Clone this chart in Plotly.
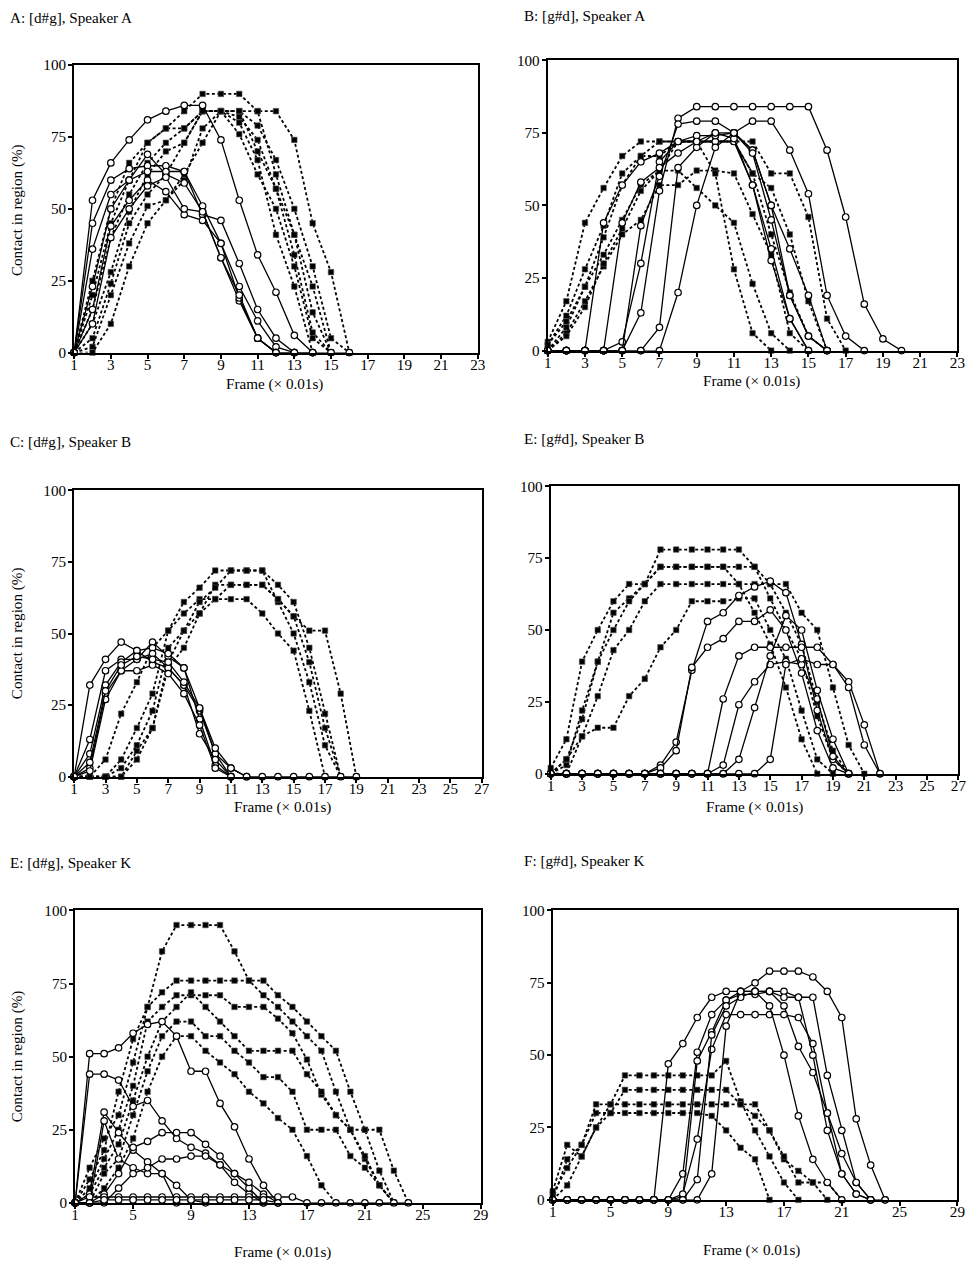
import plotly.graph_objects as go

# ---------------- data (frame values start at frame 1) ----------------
A_solid = [
    [0, 53, 66, 74, 81, 84, 86, 86, 74, 53, 34, 21, 6, 0],
    [0, 45, 60, 64, 65, 65, 63, 51, 38, 23, 11, 2, 0, 0],
    [0, 36, 55, 60, 69, 62, 59, 49, 33, 18, 5, 0],
    [0, 23, 50, 60, 63, 63, 63, 48, 46, 31, 15, 5, 0],
    [0, 15, 44, 53, 60, 56, 48, 46, 38, 19, 5, 0, 0],
    [0, 10, 40, 50, 58, 61, 50, 49, 33, 20, 5, 0, 0, 0, 0, 0],
]
A_dashed = [
    [0, 25, 50, 66, 73, 78, 84, 90, 90, 90, 84, 62, 41, 14, 0],
    [0, 20, 45, 60, 73, 78, 78, 84, 84, 84, 84, 84, 74, 45, 28, 0],
    [0, 15, 40, 55, 66, 73, 78, 84, 84, 84, 79, 67, 50, 30, 5, 0],
    [0, 10, 28, 49, 62, 70, 73, 84, 84, 84, 70, 57, 41, 23, 0],
    [0, 5, 24, 45, 55, 62, 73, 84, 84, 82, 74, 57, 34, 7, 0],
    [0, 2, 20, 38, 51, 53, 60, 78, 84, 76, 62, 50, 30, 5, 0],
    [0, 0, 10, 30, 45, 53, 62, 73, 84, 80, 67, 41, 23, 0],
]

B_solid = [
    [0, 0, 0, 44, 57, 65, 68, 72, 72, 72, 72, 57, 35, 11, 0],
    [0, 0, 0, 0, 3, 30, 65, 72, 74, 74, 75, 69, 50, 19, 5, 0],
    [0, 0, 0, 0, 0, 13, 55, 80, 84, 84, 84, 84, 84, 84, 84, 69, 46, 16, 4, 0],
    [0, 0, 0, 0, 0, 0, 8, 63, 70, 75, 73, 57, 31, 11, 0],
    [0, 0, 0, 0, 0, 0, 0, 20, 50, 70, 75, 79, 79, 69, 54, 19, 5, 0],
    [0, 0, 0, 0, 44, 58, 63, 68, 72, 75, 75, 69, 50, 35, 19, 0],
    [0, 0, 0, 0, 0, 43, 60, 78, 79, 79, 75, 68, 45, 19, 5, 0],
]
B_dashed = [
    [3, 17, 44, 56, 67, 72, 72, 72, 72, 72, 72, 61, 56, 40, 17, 0],
    [2, 12, 28, 43, 61, 67, 67, 72, 72, 72, 72, 72, 61, 61, 46, 11, 0],
    [0, 8, 22, 39, 57, 67, 72, 72, 72, 72, 72, 61, 40, 20, 5, 0],
    [0, 6, 17, 29, 40, 45, 57, 57, 62, 62, 61, 47, 33, 6, 0],
    [2, 10, 22, 33, 45, 57, 62, 62, 56, 50, 44, 23, 6, 0],
    [0, 5, 15, 30, 42, 55, 62, 72, 72, 61, 28, 6, 0],
]

C_solid = [
    [0, 32, 41, 47, 44, 40, 38, 32, 23, 8, 0],
    [0, 13, 37, 41, 41, 47, 42, 38, 24, 8, 3, 0],
    [0, 8, 32, 40, 44, 45, 43, 38, 20, 4, 0],
    [0, 3, 29, 37, 41, 43, 38, 32, 15, 6, 0],
    [0, 2, 27, 37, 37, 39, 36, 29, 18, 3, 0],
    [0, 5, 30, 39, 42, 41, 40, 33, 24, 10, 3, 0, 0, 0, 0, 0, 0, 0, 0],
]
C_dashed = [
    [0, 0, 0, 6, 17, 29, 51, 61, 66, 72, 72, 72, 72, 61, 50, 33, 11, 0],
    [0, 0, 0, 0, 9, 17, 40, 51, 57, 62, 67, 67, 67, 62, 56, 40, 17, 0],
    [0, 0, 6, 22, 33, 45, 51, 57, 62, 62, 62, 62, 57, 50, 44, 23, 0],
    [0, 0, 0, 0, 6, 17, 38, 45, 57, 67, 67, 67, 67, 62, 56, 51, 51, 29, 0],
    [0, 0, 0, 3, 11, 23, 45, 51, 61, 66, 72, 72, 72, 67, 61, 45, 22, 0],
]

EM_solid = [
    [0, 0, 0, 0, 0, 0, 0, 3, 11, 36, 53, 56, 62, 65, 67, 63, 45, 22, 5, 0],
    [0, 0, 0, 0, 0, 0, 0, 2, 8, 37, 44, 47, 53, 53, 57, 50, 35, 15, 2, 0],
    [0, 0, 0, 0, 0, 0, 0, 0, 0, 0, 0, 26, 41, 44, 44, 44, 44, 44, 38, 32, 17, 0],
    [0, 0, 0, 0, 0, 0, 0, 0, 0, 0, 0, 3, 24, 32, 38, 39, 38, 26, 6, 0],
    [0, 0, 0, 0, 0, 0, 0, 0, 0, 0, 0, 0, 0, 0, 5, 38, 40, 38, 38, 30, 10, 0],
    [0, 0, 0, 0, 0, 0, 0, 0, 0, 0, 0, 0, 5, 23, 41, 55, 50, 29, 12, 0],
]
EM_dashed = [
    [2, 12, 39, 50, 60, 66, 66, 78, 78, 78, 78, 78, 78, 72, 66, 56, 45, 25, 8, 0],
    [0, 5, 19, 39, 56, 61, 66, 72, 72, 72, 72, 72, 72, 72, 61, 50, 40, 20, 5, 0],
    [0, 0, 13, 27, 43, 50, 60, 66, 66, 66, 66, 66, 66, 66, 66, 66, 56, 50, 30, 10, 0],
    [0, 5, 13, 16, 16, 27, 33, 44, 50, 60, 60, 60, 61, 61, 50, 40, 22, 5, 0],
    [0, 3, 22, 39, 50, 60, 66, 72, 72, 72, 72, 72, 66, 56, 45, 30, 12, 0],
]

K_solid = [
    [0, 51, 51, 53, 58, 61, 62, 57, 45, 45, 34, 26, 15, 6, 0],
    [0, 44, 44, 42, 33, 35, 28, 22, 19, 17, 13, 7, 3, 0],
    [0, 3, 31, 24, 18, 14, 10, 6, 1, 0],
    [0, 0, 28, 15, 12, 10, 10, 0],
    [0, 0, 3, 10, 19, 21, 24, 24, 24, 20, 16, 10, 5, 0],
    [0, 0, 0, 5, 10, 12, 15, 15, 16, 16, 13, 10, 7, 3, 0],
    [0, 2, 2, 2, 2, 2, 2, 2, 2, 2, 2, 2, 2, 2, 2, 2, 0, 0, 0, 0, 0, 0, 0, 0],
    [0, 0, 1, 1, 1, 1, 1, 1, 1, 1, 1, 1, 1, 1, 0],
]
K_dashed = [
    [0, 8, 18, 38, 56, 67, 86, 95, 95, 95, 95, 86, 76, 71, 67, 62, 57, 52, 38, 25, 25, 11, 0],
    [0, 12, 22, 30, 48, 67, 72, 76, 76, 76, 76, 76, 76, 76, 71, 67, 62, 57, 52, 38, 25, 25, 11, 0],
    [0, 5, 15, 25, 40, 62, 67, 71, 71, 71, 71, 67, 67, 67, 63, 58, 49, 37, 30, 25, 15, 6, 0],
    [0, 3, 12, 20, 35, 50, 62, 67, 72, 67, 62, 57, 52, 52, 52, 52, 44, 38, 30, 25, 16, 6, 0],
    [0, 0, 10, 15, 30, 45, 57, 62, 62, 57, 57, 52, 48, 43, 43, 38, 25, 25, 25, 16, 12, 6, 0],
    [0, 0, 5, 12, 22, 38, 50, 57, 57, 52, 48, 44, 38, 34, 29, 25, 16, 6, 0],
]

F_solid = [
    [0, 0, 0, 0, 0, 0, 0, 0, 47, 54, 63, 70, 72, 72, 75, 79, 79, 79, 77, 72, 63, 28, 12, 0],
    [0, 0, 0, 0, 0, 0, 0, 0, 0, 9, 51, 64, 69, 72, 72, 72, 72, 70, 70, 43, 24, 6, 0],
    [0, 0, 0, 0, 0, 0, 0, 0, 0, 1, 48, 58, 69, 71, 71, 72, 67, 53, 44, 30, 16, 6, 0],
    [0, 0, 0, 0, 0, 0, 0, 0, 0, 2, 21, 52, 64, 64, 64, 64, 64, 63, 54, 30, 9, 2, 0],
    [0, 0, 0, 0, 0, 0, 0, 0, 0, 0, 7, 57, 67, 70, 72, 67, 50, 29, 14, 6, 0],
    [0, 0, 0, 0, 0, 0, 0, 0, 0, 0, 0, 9, 60, 72, 72, 72, 70, 70, 50, 24, 9, 2, 0, 0],
]
F_dashed = [
    [0, 5, 15, 25, 33, 43, 43, 43, 43, 43, 43, 43, 48, 34, 24, 15, 6, 0],
    [2, 11, 19, 30, 30, 38, 38, 38, 38, 38, 38, 38, 38, 33, 33, 24, 14, 10, 6, 6, 0],
    [0, 14, 19, 33, 33, 33, 33, 33, 33, 33, 33, 33, 33, 33, 29, 24, 15, 6, 6, 0],
    [3, 19, 15, 25, 30, 30, 30, 30, 30, 30, 30, 29, 24, 18, 14, 0],
]

titles = ["A: [d#g], Speaker A", "B: [g#d], Speaker A", "C: [d#g], Speaker B",
          "E: [g#d], Speaker B", "E: [d#g], Speaker K", "F: [g#d], Speaker K"]
x_max = [23, 23, 27, 27, 29, 29]
x_step = [2, 2, 2, 2, 4, 4]
y_ticks = [0, 25, 50, 75, 100]
x_title = "Frame (\u00d7 0.01s)"
y_title = "Contact in region (%)"

# ---------------- layout (target positions in screenshot pixels) ----------------
W, H = 980, 1265
SC, OX, OY = 0.9886, 3.8, 6.7   # calibration of page -> photographed pixels


def px(x):
    return ((x - OX) / SC) / W


def py(y):
    return 1 - ((y - OY) / SC) / H


# pixel boxes: left, right, top, bottom
boxes = [
    (74, 478, 63, 351),
    (548, 958, 58, 349),
    (74, 482, 489, 776),
    (551, 959, 485, 773),
    (75, 481, 910, 1203),
    (553, 958, 910, 1200),
]
title_pos = [(8, 15), (522, 13), (8, 440), (522, 437), (8, 862), (522, 860)]
xt_pos = [(275, 382), (752, 379), (283, 806), (755, 806), (283, 1252), (752, 1250)]
yt_pos = [(17, 208), (17, 632), (17, 1056)]

panels = [(A_solid, A_dashed), (B_solid, B_dashed), (C_solid, C_dashed),
          (EM_solid, EM_dashed), (K_solid, K_dashed), (F_solid, F_dashed)]

SERIF = "Liberation Serif"
FS = 15 / SC
fig = go.Figure()

for i, (solid, dashed) in enumerate(panels):
    n = i + 1
    xa = "x" if n == 1 else f"x{n}"
    ya = "y" if n == 1 else f"y{n}"
    for s in dashed:
        fig.add_trace(go.Scatter(
            x=list(range(1, len(s) + 1)), y=s, xaxis=xa, yaxis=ya,
            mode="lines+markers", cliponaxis=False, hoverinfo="skip",
            line=dict(color="black", width=1.8, dash="3px,2.5px"),
            marker=dict(symbol="square", size=5.5, color="black",
                        line=dict(color="#555", width=0.6))))
    for s in solid:
        fig.add_trace(go.Scatter(
            x=list(range(1, len(s) + 1)), y=s, xaxis=xa, yaxis=ya,
            mode="lines+markers", cliponaxis=False, hoverinfo="skip",
            line=dict(color="black", width=1.3),
            marker=dict(symbol="circle", size=6.5, color="white",
                        line=dict(color="black", width=1.2))))

layout = dict(width=W, height=H, margin=dict(l=0, r=0, t=0, b=0),
              paper_bgcolor="white", plot_bgcolor="white", showlegend=False)

annotations = []
for i in range(6):
    n = i + 1
    l, r, t, b = boxes[i]
    xkey = "xaxis" if n == 1 else f"xaxis{n}"
    ykey = "yaxis" if n == 1 else f"yaxis{n}"
    common = dict(showline=True, linecolor="black", linewidth=2, mirror=True,
                  ticks="outside", ticklen=4, tickwidth=1.5, tickcolor="black",
                  showgrid=False, zeroline=False,
                  tickfont=dict(family=SERIF, size=FS, color="black"))
    layout[xkey] = dict(common, domain=[px(l), px(r)], range=[1, x_max[i]],
                        tickvals=list(range(1, x_max[i] + 1, x_step[i])),
                        ticklabelstandoff=-7,
                        anchor="y" if n == 1 else f"y{n}")
    layout[ykey] = dict(common, domain=[py(b), py(t)], range=[0, 100],
                        tickvals=y_ticks, ticklabelstandoff=-1,
                        anchor="x" if n == 1 else f"x{n}")
    tx, ty = title_pos[i]
    annotations.append(dict(text=titles[i], x=px(tx), y=py(ty), xref="paper", yref="paper",
                            xanchor="left", yanchor="middle", showarrow=False,
                            font=dict(family=SERIF, size=FS, color="black")))
    xx, xy = xt_pos[i]
    annotations.append(dict(text=x_title, x=px(xx), y=py(xy), xref="paper", yref="paper",
                            xanchor="center", yanchor="middle", showarrow=False,
                            font=dict(family=SERIF, size=FS, color="black")))

for (yx, yy) in yt_pos:
    annotations.append(dict(text=y_title, x=px(yx), y=py(yy), xref="paper", yref="paper",
                            xanchor="center", yanchor="middle", showarrow=False, textangle=-90,
                            font=dict(family=SERIF, size=FS, color="black")))

layout["annotations"] = annotations
fig.update_layout(**layout)
fig.write_html("out.html", config={"displayModeBar": False},
               post_script="document.body.style.margin='0';"
                           "document.documentElement.style.overflow='hidden';")
